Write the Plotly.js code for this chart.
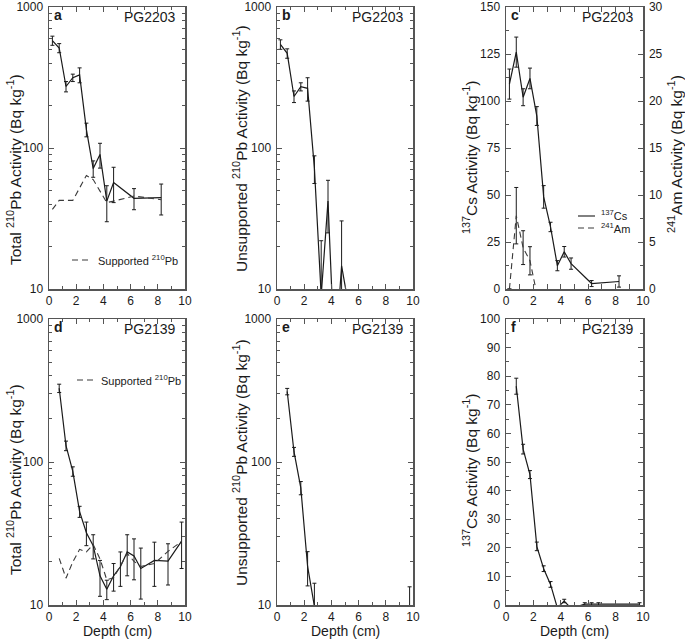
<!DOCTYPE html>
<html>
<head>
<meta charset="utf-8">
<script src="https://cdn.plot.ly/plotly-3.0.1.min.js"></script>
<style>html,body{margin:0;padding:0;background:#fff;}#chart{width:685px;height:639px;}</style>
</head>
<body>
<div id="chart"></div>
<script>
// ---------- DATA ----------
// Panel a: PG2203 total 210Pb
const depthA = [0.25, 0.75, 1.25, 1.75, 2.25, 2.75, 3.25, 3.75, 4.25, 4.75, 6.25, 8.25];
const totalA = [578, 512, 273, 315, 330, 135, 71.5, 90, 42, 57, 44, 44.5];
const totalAErr = [43, 38, 23, 19, 40, 15, 9.5, 18, 12, 16, 7.5, 11];
const suppDepthA = [0.25, 0.75, 1.75, 2.75, 3.25, 4.25, 4.75, 6.25, 8.25];
const suppA = [36.7, 42.5, 42.5, 63.8, 59.7, 41, 42, 45.6, 43];
// Panel b: PG2203 unsupported 210Pb
const unsupB = [543, 469, 232, 272, 265, 72, 9, 42, 3, 14.6, 2.2, 1.5];
const unsupBErr = [42, 36, 22, 18, 50, 16, 13, 17, 2, 15.8, 1, 0.5];
// Panel c: PG2203 137Cs and 241Am
const csC = [109, 126, 102, 112, 92, 49, 33, 12.4, 19.8, 13.5, 2.9, 4];
const csCErr = [8, 8, 4.5, 5.5, 5, 6, 2.5, 2.7, 2.8, 3, 1.6, 3];
const depthAm = [0.25, 0.75, 1.25, 1.75, 2.25];
const amC = [0, 7.8, 4.4, 3.0, -0.5];
const amCErr = [null, 3, 1.8, 1.5, null];
// Panel d: PG2139 total 210Pb
const depthD = [0.75, 1.25, 1.75, 2.25, 2.75, 3.25, 3.75, 4.25, 4.75, 5.25, 5.75, 6.25, 6.75, 7.75, 8.75, 9.75];
const totalD = [328, 130, 86, 45, 32, 26, 16, 12.9, 16, 18.5, 23.5, 22, 18, 20.5, 20.3, 28];
const totalDErr = [22, 10, 6.5, 4, 6, 5, 4.5, 2, 3.5, 5, 7.5, 7, 7, 7, 6.5, 10];
const suppD = [21.2, 15.4, 20, 24.5, 23.5, 26.5, 21, 15, 15.5, 19, 22.9, 20.2, 18.6, 19.5, 23.7, 27.8];
// Panel e: PG2139 unsupported 210Pb
const depthE = [0.75, 1.25, 1.75, 2.25, 2.75, 9.75];
const unsupE = [311, 118, 66, 18.6, 9.8, 4];
const unsupEErr = [16, 8.5, 7, 5, 4.4, 9.4];
// Panel f: PG2139 137Cs
const depthF = [0.75, 1.25, 1.75, 2.25, 2.75, 3.25, 3.75, 4.25, 4.75, 5.75, 6.25, 6.75, 9.75];
const csF = [76.5, 54.5, 45.6, 20.5, 12.7, 7.2, -1, 1.4, -1.2, 0.3, 0.3, 0.3, 0.3];
const csFErr = [2.8, 1.7, 1.4, 1.5, 1, 1, null, 0.6, null, 0.5, 0.5, 0.5, 0.5];
// Tick labels
const depthTicks = [0, 2, 4, 6, 8, 10];
const logTicks = [10, 100, 1000];
const logTickText = ['10', '100', '1000'];
const logMinor = [20,30,40,50,60,70,80,90,200,300,400,500,600,700,800,900];

// ---------- STYLE ----------
const W = 685, H = 639;
const FONT = 'Liberation Sans, Arial, sans-serif';
const INK = '#1a1a1a';
const FRAME = '#555';
const px = x => x / W;
const py = y => 1 - y / H;

function errTrace(x, y, err, xa, ya) {
  return {
    x: x, y: y, xaxis: xa, yaxis: ya, mode: 'lines', type: 'scatter',
    line: {color: INK, width: 1.2},
    error_y: {type: 'data', array: err, visible: true, thickness: 1, width: 2, color: INK},
    hoverinfo: 'skip', showlegend: false
  };
}
function dashTrace(x, y, xa, ya, err) {
  const t = {
    x: x, y: y, xaxis: xa, yaxis: ya, mode: 'lines', type: 'scatter',
    line: {color: '#3a3a3a', width: 1.1, dash: '6px,4px'},
    hoverinfo: 'skip', showlegend: false
  };
  if (err) t.error_y = {type: 'data', array: err, visible: true, thickness: 1, width: 2, color: INK};
  return t;
}

const traces = [
  errTrace(depthA, totalA, totalAErr, 'x', 'y'),
  dashTrace(suppDepthA, suppA, 'x', 'y'),
  errTrace(depthA, unsupB, unsupBErr, 'x2', 'y2'),
  errTrace(depthA, csC, csCErr, 'x3', 'y3'),
  dashTrace(depthAm, amC, 'x3', 'y7', amCErr),
  errTrace(depthD, totalD, totalDErr, 'x4', 'y4'),
  dashTrace(depthD, suppD, 'x4', 'y4'),
  errTrace(depthE, unsupE, unsupEErr, 'x5', 'y5'),
  errTrace(depthF, csF, csFErr, 'x6', 'y6')
];

const cols = [[49, 185], [277, 413], [506, 643]];
const rows = [[7, 289], [319, 605]];
const TICKFONT = {family: FONT, size: 12, color: INK};

function xAxis(col, row, anchor) {
  return {
    domain: [px(cols[col][0]), px(cols[col][1])], anchor: anchor,
    range: [0, 10], tickvals: depthTicks, ticks: 'inside', ticklen: 5, tickwidth: 1, tickcolor: FRAME,
    minor: {ticks: 'inside', dtick: 1, ticklen: 3, tickcolor: FRAME, tickwidth: 1},
    showline: true, linecolor: FRAME, linewidth: 1.5, mirror: 'allticks',
    showgrid: false, zeroline: false, ticklabeloverflow: 'allow',
    tickfont: TICKFONT, fixedrange: true
  };
}
function yLog(col, row, anchor) {
  return {
    domain: [py(rows[row][1]), py(rows[row][0])], anchor: anchor, type: 'log',
    range: [1, 3], tickvals: logTicks, ticktext: logTickText,
    ticks: 'inside', ticklen: 5, tickwidth: 1, tickcolor: FRAME,
    minor: {ticks: 'inside', tickvals: logMinor, ticklen: 3, tickcolor: FRAME, tickwidth: 1},
    showline: true, linecolor: FRAME, linewidth: 1.5, mirror: 'allticks',
    showgrid: false, zeroline: false, ticklabelstandoff: 2, ticklabeloverflow: 'allow',
    tickfont: TICKFONT, fixedrange: true
  };
}
function yLin(col, row, anchor, max, dt, mirror) {
  return {
    domain: [py(rows[row][1]), py(rows[row][0])], anchor: anchor,
    range: [0, max], dtick: dt, tick0: 0,
    ticks: 'inside', ticklen: 5, tickwidth: 1, tickcolor: FRAME,
    minor: {ticks: 'inside', dtick: dt / 2, ticklen: 3, tickcolor: FRAME, tickwidth: 1},
    showline: true, linecolor: FRAME, linewidth: 1.5, mirror: mirror,
    showgrid: false, zeroline: false, ticklabelstandoff: 2, ticklabeloverflow: 'allow',
    tickfont: TICKFONT, fixedrange: true
  };
}

const y7 = yLin(2, 0, 'x3', 30, 5, false);
y7.overlaying = 'y3';
y7.side = 'right';

const ann = [];
function addText(text, x, y, opts) {
  ann.push(Object.assign({
    text: text, x: px(x), y: py(y), xref: 'paper', yref: 'paper', showarrow: false,
    font: {family: FONT, size: 15, color: INK}, xanchor: 'center', yanchor: 'middle'
  }, opts || {}));
}
// panel letters and core names
const letters = ['a', 'b', 'c', 'd', 'e', 'f'];
const cores = ['PG2203', 'PG2203', 'PG2203', 'PG2139', 'PG2139', 'PG2139'];
for (let i = 0; i < 6; i++) {
  const c = cols[i % 3], r = rows[Math.floor(i / 3)];
  addText('<b>' + letters[i] + '</b>', c[0] + 3, r[0] + 8, {xanchor: 'left', font: {family: FONT, size: 14, color: INK}});
  addText(cores[i], c[1] - 7, r[0] + 10, {xanchor: 'right', font: {family: FONT, size: 14, color: INK}});
}
// y-axis titles
const tf = {family: FONT, size: 15.5, color: INK};
addText('Total <sup>210</sup>Pb Activity (Bq kg<sup>-1</sup>)', 14, 170, {textangle: -90, font: tf});
addText('Unsupported <sup>210</sup>Pb Activity (Bq kg<sup>-1</sup>)', 240, 149, {textangle: -90, font: tf});
addText('<sup>137</sup>Cs Activity (Bq kg<sup>-1</sup>)', 470, 157, {textangle: -90, font: tf});
addText('<sup>241</sup>Am Activity (Bq kg<sup>-1</sup>)', 675, 154, {textangle: -90, font: tf});
addText('Total <sup>210</sup>Pb Activity (Bq kg<sup>-1</sup>)', 14, 480, {textangle: -90, font: tf});
addText('Unsupported <sup>210</sup>Pb Activity (Bq kg<sup>-1</sup>)', 240, 463, {textangle: -90, font: tf});
addText('<sup>137</sup>Cs Activity (Bq kg<sup>-1</sup>)', 470, 470, {textangle: -90, font: tf});
// x titles
const xf = {family: FONT, size: 14, color: INK};
addText('Depth (cm)', 117, 631, {font: xf});
addText('Depth (cm)', 345, 631, {font: xf});
addText('Depth (cm)', 574, 631, {font: xf});
// legends
const lf = {family: FONT, size: 11, color: INK};
addText('Supported <sup>210</sup>Pb', 96, 260, {xanchor: 'left', font: lf});
addText('Supported <sup>210</sup>Pb', 99, 380, {xanchor: 'left', font: lf});
addText('<sup>137</sup>Cs', 599, 215, {xanchor: 'left', font: lf});
addText('<sup>241</sup>Am', 599, 228, {xanchor: 'left', font: lf});

const shapes = [
  {type: 'line', xref: 'paper', yref: 'paper', x0: px(72), x1: px(90), y0: py(260), y1: py(260), line: {color: '#3a3a3a', width: 1.1, dash: '6px,4px'}},
  {type: 'line', xref: 'paper', yref: 'paper', x0: px(77), x1: px(93), y0: py(380), y1: py(380), line: {color: '#3a3a3a', width: 1.1, dash: '6px,4px'}},
  {type: 'line', xref: 'paper', yref: 'paper', x0: px(578), x1: px(595), y0: py(216), y1: py(216), line: {color: INK, width: 1.1}},
  {type: 'line', xref: 'paper', yref: 'paper', x0: px(578), x1: px(595), y0: py(228), y1: py(228), line: {color: '#3a3a3a', width: 1.1, dash: '6px,4px'}}
];

const layout = {
  width: W, height: H, margin: {l: 0, r: 0, t: 0, b: 0},
  paper_bgcolor: '#fff', plot_bgcolor: '#fff', showlegend: false,
  font: {family: FONT, color: INK},
  xaxis: xAxis(0, 0, 'y'), yaxis: yLog(0, 0, 'x'),
  xaxis2: xAxis(1, 0, 'y2'), yaxis2: yLog(1, 0, 'x2'),
  xaxis3: xAxis(2, 0, 'y3'), yaxis3: yLin(2, 0, 'x3', 150, 25, false),
  xaxis4: xAxis(0, 1, 'y4'), yaxis4: yLog(0, 1, 'x4'),
  xaxis5: xAxis(1, 1, 'y5'), yaxis5: yLog(1, 1, 'x5'),
  xaxis6: xAxis(2, 1, 'y6'), yaxis6: yLin(2, 1, 'x6', 100, 10, 'allticks'),
  yaxis7: y7,
  annotations: ann, shapes: shapes
};

Plotly.newPlot('chart', traces, layout, {staticPlot: true, displayModeBar: false});
</script>
</body>
</html>
